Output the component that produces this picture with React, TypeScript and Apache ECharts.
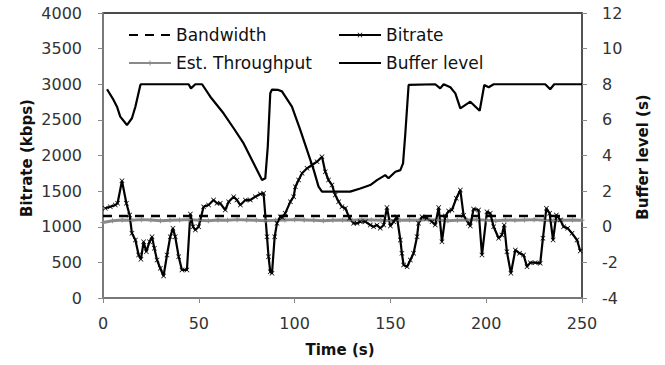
import React, { useEffect, useRef } from "react";
import * as echarts from "echarts";

const bitrateTime = [1.2, 3.8, 6.4, 7.6, 9.9, 12.2, 13.9, 15.1, 16.9, 18.6, 19.8, 21.2, 22.6, 24.3, 25.6, 26.8, 28.2, 29.9, 31.6, 33.4, 35.1, 36.5, 37.7, 39.5, 41.2, 43.8, 45.6, 47.0, 48.2, 49.9, 52.5, 55.1, 57.7, 59.5, 61.2, 63.8, 65.6, 68.2, 69.9, 71.7, 74.3, 76.9, 79.5, 82.1, 83.8, 85.6, 86.4, 87.3, 88.2, 89.6, 90.8, 92.5, 93.6, 95.1, 97.8, 99.5, 100.4, 102.1, 103.9, 106.5, 109.1, 111.7, 114.3, 116.0, 117.7, 119.5, 121.2, 123.0, 124.7, 126.5, 128.7, 130.8, 132.6, 134.3, 136.9, 139.5, 141.2, 143.0, 144.7, 146.5, 148.2, 150.0, 151.7, 153.4, 155.2, 156.0, 156.9, 158.7, 160.4, 162.1, 163.9, 164.7, 166.5, 169.0, 171.7, 173.4, 175.2, 176.9, 178.7, 180.4, 182.1, 184.4, 186.5, 188.2, 190.8, 191.7, 193.4, 196.0, 197.8, 200.4, 202.1, 203.9, 206.5, 208.2, 209.4, 210.8, 212.9, 215.2, 217.4, 219.5, 221.3, 223.0, 225.6, 228.2, 229.6, 231.4, 233.1, 234.9, 236.6, 238.7, 240.4, 242.5, 244.8, 247.4, 249.1];
const bitrate = [1260, 1280, 1305, 1330, 1646, 1330, 1165, 908, 814, 603, 543, 790, 650, 790, 860, 697, 533, 417, 309, 603, 860, 978, 860, 580, 393, 393, 1180, 1000, 954, 1000, 1281, 1305, 1375, 1329, 1329, 1235, 1352, 1422, 1375, 1305, 1375, 1375, 1422, 1460, 1470, 860, 580, 369, 346, 860, 1048, 1141, 1130, 1188, 1352, 1422, 1562, 1656, 1750, 1820, 1867, 1913, 1983, 1773, 1656, 1586, 1446, 1352, 1281, 1259, 1118, 1048, 1048, 1071, 1071, 1025, 1000, 1025, 978, 1025, 1270, 1010, 1071, 1141, 814, 627, 463, 440, 533, 627, 860, 1048, 1141, 1120, 1071, 1025, 1270, 790, 1150, 1220, 1235, 1399, 1516, 1160, 1048, 1010, 1250, 1235, 603, 1211, 1188, 1000, 838, 884, 1025, 650, 346, 674, 627, 603, 440, 496, 496, 487, 838, 1259, 1188, 814, 1165, 1095, 1000, 978, 908, 814, 660];

const bandwidthTime = [0, 250];
const bandwidth = [1150, 1150];

const throughputTime = [0, 5, 10, 15, 20, 25, 30, 35, 40, 45, 50, 55, 60, 65, 70, 75, 80, 85, 90, 95, 100, 105, 110, 115, 120, 125, 130, 135, 140, 145, 150, 155, 160, 165, 170, 175, 180, 185, 190, 195, 200, 205, 210, 215, 220, 225, 230, 235, 240, 245, 250];
const throughput = [1060, 1085, 1095, 1090, 1100, 1095, 1085, 1090, 1095, 1100, 1090, 1085, 1095, 1090, 1100, 1095, 1090, 1085, 1090, 1095, 1100, 1095, 1090, 1085, 1090, 1095, 1090, 1100, 1095, 1090, 1085, 1090, 1095, 1090, 1100, 1095, 1085, 1090, 1095, 1100, 1090, 1085, 1095, 1090, 1095, 1100, 1090, 1085, 1090, 1095, 1090];

const bufferTime = [2.1, 5.5, 7.3, 9.0, 12.5, 15.1, 16.9, 19.5, 20.0, 44.7, 45.9, 48.2, 51.7, 56.0, 62.9, 68.2, 73.4, 78.6, 83.0, 84.7, 86.0, 87.3, 88.2, 91.5, 93.4, 98.6, 103.0, 106.5, 110.0, 112.5, 114.3, 129.0, 134.3, 139.5, 143.0, 147.3, 149.0, 152.6, 155.2, 156.6, 157.8, 159.5, 173.4, 176.0, 177.8, 181.3, 183.9, 186.5, 191.7, 196.6, 199.0, 201.3, 203.9, 230.8, 233.4, 235.5, 250.0];
const buffer = [7.72, 7.12, 6.74, 6.18, 5.71, 6.09, 6.74, 7.96, 8, 8, 7.77, 8, 8, 7.3, 6.37, 5.53, 4.68, 3.56, 2.62, 2.72, 4.5, 7.5, 7.7, 7.68, 7.6, 6.74, 5.43, 4.3, 3.18, 2.25, 1.97, 1.97, 2.15, 2.34, 2.62, 2.9, 2.72, 3.09, 3.18, 3.56, 5.25, 7.96, 8, 7.77, 8, 7.83, 7.49, 6.65, 7.02, 6.51, 7.96, 7.83, 8, 8, 7.72, 8, 8];

const xTicks = { min: 0, max: 250, interval: 50 };
const leftTicks = { min: 0, max: 4000, interval: 500 };
const rightTicks = { min: -4, max: 12, interval: 2 };

const pair = (t: number[], v: number[]) => t.map((x, i) => [x, v[i]]);

const FONT = "DejaVu Sans";
const xMark = "path://M0,1L1,0L5,4L9,0L10,1L6,5L10,9L9,10L5,6L1,10L0,9L4,5Z";
const plusMark = "path://M4,0H6V4H10V6H6V10H4V6H0V4H4Z";

export default function App() {
  const ref = useRef<HTMLDivElement>(null);
  useEffect(() => {
    if (!ref.current) return;
    const chart = echarts.init(ref.current, null, { renderer: "svg" });
    const labelStyle = { fontFamily: FONT, fontSize: 16, color: "#333", formatter: (v: number) => String(v) };
    const legendCommon = {
      orient: "vertical" as const,
      top: 20,
      itemWidth: 42,
      itemHeight: 6,
      itemGap: 8,
      textStyle: { fontFamily: FONT, fontSize: 17, lineHeight: 20, color: "#111" },
    };
    chart.setOption({
      animation: false,
      backgroundColor: "#fff",
      grid: { left: 103, right: 83, top: 13, bottom: 67, show: true, borderColor: "#111", borderWidth: 1.5, containLabel: false },
      legend: [
        { ...legendCommon, left: 123, data: [{ name: "Bandwidth", itemStyle: { opacity: 0 } }, { name: "Est. Throughput" }] },
        { ...legendCommon, left: 333, data: [{ name: "Bitrate" }, { name: "Buffer level", itemStyle: { opacity: 0 } }] },
      ],
      xAxis: {
        type: "value",
        ...xTicks,
        axisLine: { show: true, lineStyle: { color: "#888", width: 1.5 } },
        axisTick: { show: true, length: 5, lineStyle: { color: "#888" } },
        splitLine: { show: false },
        axisLabel: { ...labelStyle, margin: 17 },
      },
      yAxis: [
        {
          type: "value",
          ...leftTicks,
          position: "left",
          axisLine: { show: true, lineStyle: { color: "#888", width: 1.5 } },
          axisTick: { show: true, length: 5, lineStyle: { color: "#888" } },
          splitLine: { show: false },
          axisLabel: { ...labelStyle, margin: 21 },
        },
        {
          type: "value",
          ...rightTicks,
          position: "right",
          axisLine: { show: true, lineStyle: { color: "#555", width: 1.5 } },
          axisTick: { show: true, length: 5, lineStyle: { color: "#888" } },
          splitLine: { show: false },
          axisLabel: { ...labelStyle, margin: 20 },
        },
      ],
      graphic: [
        { type: "text", x: 27, y: 158, rotation: Math.PI / 2, style: { text: "Bitrate (kbps)", font: `bold 15px '${FONT}'`, fill: "#111", align: "center", verticalAlign: "middle" } },
        { type: "text", x: 643, y: 157, rotation: Math.PI / 2, style: { text: "Buffer level (s)", font: `bold 15px '${FONT}'`, fill: "#111", align: "center", verticalAlign: "middle" } },
        { type: "text", x: 340, y: 350, style: { text: "Time (s)", font: `bold 15px '${FONT}'`, fill: "#111", align: "center", verticalAlign: "middle" } },
      ],
      series: [
        {
          name: "Bandwidth",
          type: "line",
          data: pair(bandwidthTime, bandwidth),
          symbol: "none",
          lineStyle: { color: "#000", width: 2.5, type: [9, 7] },
          itemStyle: { color: "#000" },
        },
        {
          name: "Est. Throughput",
          type: "line",
          data: pair(throughputTime, throughput),
          symbol: plusMark,
          symbolSize: 5,
          lineStyle: { color: "#8a8a8a", width: 3 },
          itemStyle: { color: "#8a8a8a" },
        },
        {
          name: "Bitrate",
          type: "line",
          data: pair(bitrateTime, bitrate),
          symbol: xMark,
          symbolSize: 5,
          lineStyle: { color: "#000", width: 2.2 },
          itemStyle: { color: "#000" },
        },
        {
          name: "Buffer level",
          type: "line",
          yAxisIndex: 1,
          data: pair(bufferTime, buffer),
          symbol: "none",
          lineStyle: { color: "#000", width: 2.2 },
          itemStyle: { color: "#000" },
        },
      ],
    });
    return () => chart.dispose();
  }, []);
  return <div ref={ref} style={{ position: "fixed", left: 0, top: 0, width: 665, height: 365, background: "#fff" }} />;
}
